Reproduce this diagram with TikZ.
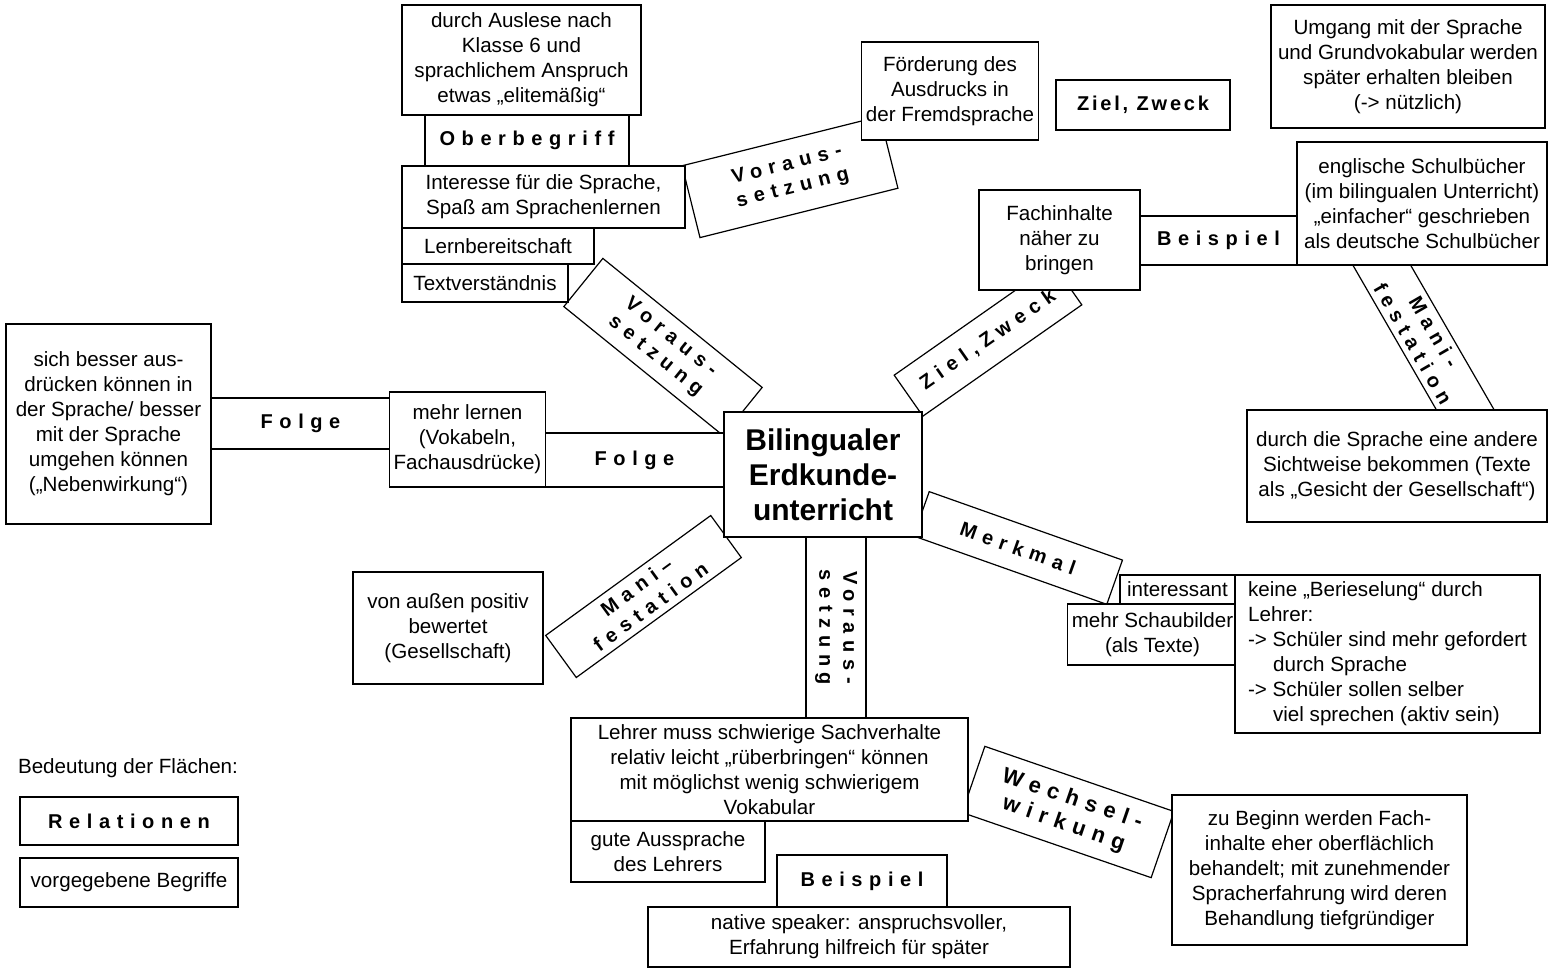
\documentclass[tikz,border=0pt]{standalone}
\usepackage{fontspec}
\setmainfont{Liberation Sans}
\newfontfamily\relfont[LetterSpace=33]{Liberation Sans}
\newfontfamily\relfontnarrow[LetterSpace=14]{Liberation Sans}
\def\cf{\fontsize{10.3}{12.5}\selectfont}
\def\rf{\fontsize{10}{12}\relfont\bfseries}
\begin{document}
\begin{tikzpicture}[x=0.5pt,y=-0.5pt,
  con/.style={draw, fill=white, line width=0.6pt, inner sep=2pt, align=center, font=\cf},
  rel/.style={draw, fill=white, line width=0.6pt, inner sep=2pt, align=center, font=\rf},
  sz/.style 2 args={minimum width=#1*0.5pt, minimum height=#2*0.5pt},
  plain/.style={inner sep=0pt, font=\cf}]
\useasboundingbox (0,0) rectangle (1552,969);
% ---------- relation boxes (drawn first) ----------
\node[rel, sz={204}{51}] (oberbegriff) at (527,140.5) {Oberbegriff};
\node[rel, sz={204}{74}, rotate=14] (vor1) at (790,177) {Voraus-\\setzung};
\node[rel, sz={174}{50}, font={\fontsize{10}{12}\relfontnarrow\bfseries}] (ziel1) at (1143,105) {Ziel, Zweck};
\node[rel, sz={157}{49}] (beisp1) at (1218.5,240.5) {Beispiel};
\node[rel, sz={214}{50}, rotate=-60] (mani1) at (1423.5,337.5) {Mani-\\festation};
\node[rel, sz={194}{50}, rotate=35] (ziel2) at (988,340) {Ziel,Zweck};
\node[rel, sz={205}{62}, rotate=-39] (vor2) at (663,347) {Voraus-\\setzung};
\node[rel, sz={179}{51}] (folge1) at (300.5,423.5) {Folge};
\node[rel, sz={179}{54}] (folge2) at (634.5,460) {Folge};
\node[rel, sz={204}{52}, rotate=36] (mani2) at (643.5,596.5) {Mani–\\festation};
\node[rel, sz={181}{60}, rotate=-90] (vor3) at (836,627.5) {Voraus-\\setzung};
\node[rel, sz={205}{47}, rotate=-19.5] (merkmal) at (1018,548) {Merkmal};
\node[rel, sz={170}{52}] (beisp2) at (862,881) {Beispiel};
\node[rel, sz={200}{70}, rotate=-19, font={\fontsize{11}{13}\relfont\bfseries}] (wechsel) at (1068,812) {Wechsel-\\wirkung};
% ---------- concept boxes ----------
\node[con, sz={239}{110}] (auslese) at (521.5,60) {durch Auslese nach\\Klasse 6 und\\sprachlichem Anspruch\\etwas „elitemäßig“};
\node[con, sz={283}{62}] (interesse) at (543.5,197) {Interesse für die Sprache,\\Spaß am Sprachenlernen};
\node[con, sz={192}{36}] (lernb) at (498,246) {Lernbereitschaft};
\node[con, sz={166}{38}] (textv) at (485,283) {Textverständnis};
\node[con, sz={170}{98}] (foerd) at (950,91) {Förderung des\\Ausdrucks in\\der Fremdsprache};
\node[con, sz={274}{123}] (umgang) at (1408,66.5) {Umgang mit der Sprache\\und Grundvokabular werden\\später erhalten bleiben\\(-> nützlich)};
\node[con, sz={161}{100}] (fach) at (1059.5,240) {Fachinhalte\\näher zu\\bringen};
\node[con, sz={250}{123}] (engl) at (1422,203.5) {englische Schulbücher\\(im bilingualen Unterricht)\\„einfacher“ geschrieben\\als deutsche Schulbücher};
\node[con, sz={300}{112}] (sicht) at (1397,466) {durch die Sprache eine andere\\Sichtweise bekommen (Texte\\als „Gesicht der Gesellschaft“)};
\node[con, sz={198}{125}, font=\fontsize{15}{17.5}\selectfont\bfseries] (center) at (823,474.5) {Bilingualer\\Erdkunde-\\unterricht};
\node[con, sz={205}{200}] (besser) at (108.5,424) {sich besser aus-\\drücken können in\\der Sprache/ besser\\mit der Sprache\\umgehen können\\(„Nebenwirkung“)};
\node[con, sz={155}{95}] (mehr) at (467.5,439.5) {mehr lernen\\(Vokabeln,\\Fachausdrücke)};
\node[con, sz={190}{112}] (aussen) at (448,628) {von außen positiv\\bewertet\\(Gesellschaft)};
\node[con, sz={115}{29}, inner sep=0pt] (inter) at (1177.5,589.5) {interessant};
\node[con, sz={165}{61}] (schau) at (1152.5,634.5) {mehr Schaubilder\\(als Texte)};
\node[con, sz={305}{158}, align=left, inner xsep=0pt] (keine) at (1387.5,654) {keine „Berieselung“ durch\\Lehrer:\\-> Schüler sind mehr gefordert\\\hspace*{12.5pt}durch Sprache\\-> Schüler sollen selber\\\hspace*{12.5pt}viel sprechen (aktiv sein)};
\node[con, sz={397}{103}] (lehrer) at (769.5,769.5) {Lehrer muss schwierige Sachverhalte\\relativ leicht „rüberbringen“ können\\mit möglichst wenig  schwierigem\\Vokabular};
\node[con, sz={194}{61}] (ausspr) at (668,851.5) {gute Aussprache\\des Lehrers};
\node[con, sz={422}{60}] (native) at (859,937) {native speaker: anspruchsvoller,\\Erfahrung hilfreich für später};
\node[con, sz={295}{150}] (beginn) at (1319.5,870) {zu Beginn werden Fach-\\inhalte eher oberflächlich\\behandelt; mit zunehmender\\Spracherfahrung wird deren\\Behandlung tiefgründiger};
% ---------- legend ----------
\node[plain] (legtitle) at (128,768) {Bedeutung der Flächen:};
\node[rel, sz={218}{48}] (legrel) at (129,821) {Relationen};
\node[con, sz={218}{49}] (legcon) at (129,882.5) {vorgegebene Begriffe};
\end{tikzpicture}
\end{document}
